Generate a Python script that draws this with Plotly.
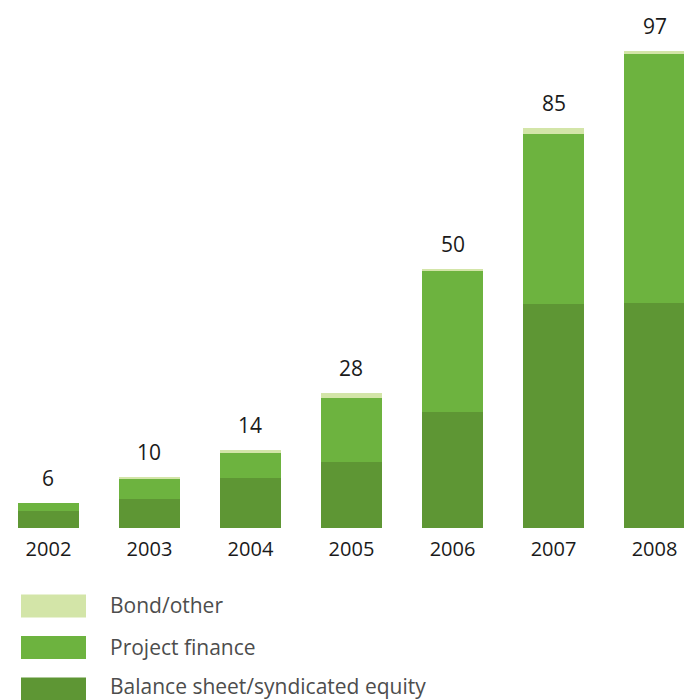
import plotly.graph_objects as go

years = ["2002", "2003", "2004", "2005", "2006", "2007", "2008"]
balance_sheet = [3.5, 5.9, 10.1, 13.5, 23.6, 45.5, 45.7]
project_finance = [1.6, 4.1, 5.1, 12.9, 28.7, 34.6, 50.8]
bond_other = [0.0, 0.3, 0.6, 1.0, 0.4, 1.2, 0.4]
total_labels = ["6", "10", "14", "28", "50", "85", "97"]

series_names = ["Bond/other", "Project finance", "Balance sheet/syndicated equity"]
colors = {"Balance sheet/syndicated equity": "#5e9634",
          "Project finance": "#6db33f",
          "Bond/other": "#d3e5a8"}
FONT = "Open Sans"

xs = list(range(len(years)))
fig = go.Figure()
for name, vals in [("Balance sheet/syndicated equity", balance_sheet),
                   ("Project finance", project_finance),
                   ("Bond/other", bond_other)]:
    fig.add_trace(go.Bar(x=xs, y=vals, name=name, marker_color=colors[name],
                         marker_line_width=0, width=0.604, hoverinfo="skip"))

totals = [a + b + c for a, b, c in zip(balance_sheet, project_finance, bond_other)]
for x, t, lab in zip(xs, totals, total_labels):
    fig.add_annotation(x=x, y=t, text=lab, showarrow=False, yanchor="middle",
                       yshift=25, font=dict(size=21, color="#1a1a1a", family=FONT))

# legend swatches
H = 528.0
for i, name in enumerate(series_names):
    cy = 606 + 41.5 * i
    fig.add_shape(type="rect", xref="paper", yref="paper",
                  x0=21 / 684, x1=86 / 684,
                  y0=(H - (cy + 11.5)) / H, y1=(H - (cy - 11.5)) / H,
                  fillcolor=colors[name], line_width=0, layer="above")
    ty = cy - 1 if i < 2 else cy - 3
    fig.add_annotation(xref="paper", yref="paper", x=108 / 684, y=(H - ty) / H,
                       text=name, showarrow=False, xanchor="left", yanchor="middle",
                       font=dict(size=21, color="#4d4d4d", family=FONT))

fig.update_layout(
    barmode="stack", width=684, height=700,
    margin=dict(l=0, r=0, t=0, b=172),
    paper_bgcolor="white", plot_bgcolor="white", showlegend=False,
    xaxis=dict(range=[-0.480, 6.292], tickvals=xs, ticktext=years, showgrid=False,
               zeroline=False, showline=False, ticks="", ticklabelstandoff=7,
               tickfont=dict(size=20, color="#1a1a1a", family=FONT)),
    yaxis=dict(range=[0, 107.3], visible=False, showgrid=False, zeroline=False),
)
fig.write_html("out.html")
